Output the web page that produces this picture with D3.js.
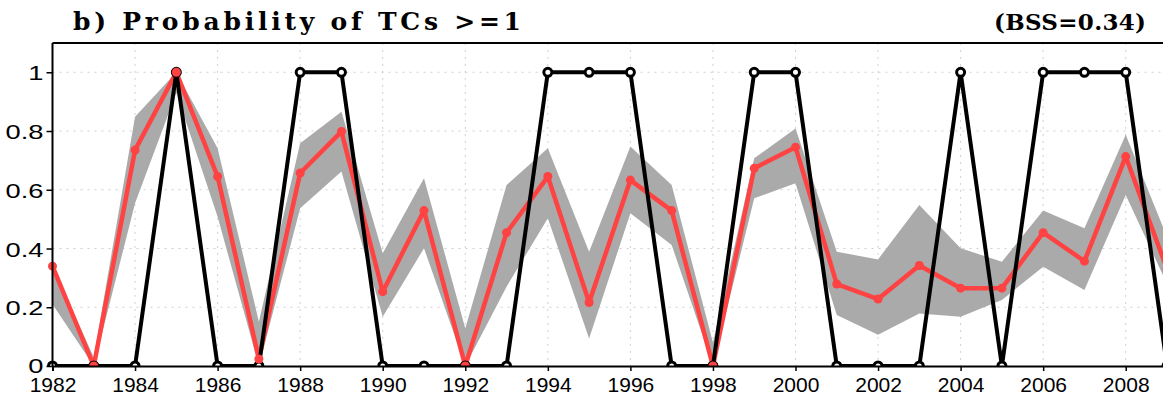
<!DOCTYPE html>
<html>
<head>
<meta charset="utf-8">
<script src="https://cdn.jsdelivr.net/npm/d3@7"></script>
<style>
  html, body { margin: 0; padding: 0; background: #fff; }
  svg { display: block; }
</style>
</head>
<body>
<svg id="chart" width="1163" height="397"></svg>
<script>
// Seasonal TC occurrence: observed (0/1) vs. forecast probability with ensemble spread
const years = [1982, 1983, 1984, 1985, 1986, 1987, 1988, 1989, 1990, 1991, 1992, 1993, 1994, 1995,
               1996, 1997, 1998, 1999, 2000, 2001, 2002, 2003, 2004, 2005, 2006, 2007, 2008, 2009];
const observed = [0, 0, 0, 1, 0, 0, 1, 1, 0, 0, 0, 0, 1, 1,
                  1, 0, 0, 1, 1, 0, 0, 0, 1, 0, 1, 1, 1, 0];
const forecast = [0.34, 0.0, 0.735, 1.0, 0.645, 0.024, 0.657, 0.798, 0.253, 0.529, 0.0, 0.454, 0.645, 0.216,
                  0.633, 0.529, 0.0, 0.673, 0.745, 0.279, 0.228, 0.342, 0.265, 0.265, 0.454, 0.357, 0.713, 0.33];
const spreadUpper = [0.34, 0.03, 0.849, 1.0, 0.741, 0.151, 0.758, 0.866, 0.384, 0.639, 0.128, 0.616, 0.741, 0.389,
                     0.747, 0.616, 0.08, 0.707, 0.809, 0.389, 0.363, 0.548, 0.401, 0.355, 0.529, 0.469, 0.787, 0.44];
const spreadLower = [0.21, 0.0, 0.554, 0.93, 0.508, 0.0, 0.537, 0.662, 0.168, 0.401, 0.0, 0.27, 0.503, 0.094,
                     0.52, 0.412, 0.0, 0.571, 0.622, 0.174, 0.106, 0.179, 0.168, 0.225, 0.338, 0.259, 0.582, 0.28];
const xTicks = [1982, 1984, 1986, 1988, 1990, 1992, 1994, 1996, 1998, 2000, 2002, 2004, 2006, 2008];
const yTicks = [0, 0.2, 0.4, 0.6, 0.8, 1];
const titleText = "b) Probability of TCs >=1";
const scoreText = "(BSS=0.34)";

(function draw() {
  const svg = d3.select("#chart");
  const W = 1163;
  const mLeft = 52.5, mRight = 1167, mTop = 42.9, mBottom = 366;

  const x = d3.scaleLinear().domain([1982, 2009]).range([mLeft, mRight]);
  const y = d3.scaleLinear().domain([0, 1.1]).range([mBottom, mTop]);

  const rows = years.map((yr, i) => ({
    yr, obs: observed[i], fc: forecast[i], lo: spreadLower[i], hi: spreadUpper[i]
  }));

  // clip everything below the x axis
  svg.append("defs").append("clipPath").attr("id", "plotClip")
    .append("rect").attr("x", 0).attr("y", 0).attr("width", W).attr("height", mBottom);

  // dotted grid
  const grid = svg.append("g").attr("stroke", "#cfcfcf").attr("stroke-width", 1)
    .attr("stroke-dasharray", "2,5");
  grid.selectAll("line.v").data(xTicks.filter(t => t > 1982)).join("line").attr("class", "v")
    .attr("x1", d => x(d)).attr("x2", d => x(d)).attr("y1", mTop).attr("y2", mBottom);
  grid.selectAll("line.h").data(yTicks.filter(t => t > 0)).join("line").attr("class", "h")
    .attr("x1", mLeft).attr("x2", W).attr("y1", d => y(d)).attr("y2", d => y(d));

  const plot = svg.append("g").attr("clip-path", "url(#plotClip)");

  // ensemble spread band
  plot.append("path").datum(rows)
    .attr("fill", "#aaaaaa")
    .attr("d", d3.area().x(d => x(d.yr)).y0(d => y(d.lo)).y1(d => y(d.hi)));

  // forecast probability line
  plot.append("path").datum(rows)
    .attr("fill", "none").attr("stroke", "#ff4242").attr("stroke-width", 4.5)
    .attr("stroke-linejoin", "round")
    .attr("d", d3.line().x(d => x(d.yr)).y(d => y(d.fc)));

  // observed line
  plot.append("path").datum(rows)
    .attr("fill", "none").attr("stroke", "#000").attr("stroke-width", 4)
    .attr("d", d3.line().x(d => x(d.yr)).y(d => y(d.obs)));

  plot.selectAll("circle.obs").data(rows).join("circle")
    .attr("class", "obs")
    .attr("cx", d => x(d.yr)).attr("cy", d => y(d.obs)).attr("r", 4)
    .attr("fill", "#fff").attr("stroke", "#000").attr("stroke-width", 3);

  plot.selectAll("circle.fc").data(rows).join("circle")
    .attr("class", "fc")
    .attr("cx", d => x(d.yr)).attr("cy", d => y(d.fc)).attr("r", 4.5)
    .attr("fill", "#ff4242");

  // frame
  svg.append("line").attr("x1", mLeft).attr("x2", W).attr("y1", mTop).attr("y2", mTop)
    .attr("stroke", "#000").attr("stroke-width", 2);

  const xAxis = svg.append("g").attr("transform", `translate(0,${mBottom})`)
    .call(d3.axisBottom(x).tickValues(xTicks).tickFormat(d3.format("d")).tickSize(5).tickPadding(6));
  xAxis.select(".domain").attr("stroke-width", 2);
  xAxis.selectAll(".tick line").attr("stroke-width", 1.5);
  xAxis.selectAll("text").attr("font-family", "Liberation Sans, Arial, sans-serif")
    .attr("font-size", 21).attr("fill", "#000");

  const yAxis = svg.append("g").attr("transform", `translate(${mLeft},0)`)
    .call(d3.axisLeft(y).tickValues(yTicks)
      .tickFormat(d => d === 0 ? "0" : d === 1 ? "1" : d3.format(".1f")(d))
      .tickSize(6).tickPadding(0));
  yAxis.select(".domain").attr("stroke-width", 2).attr("d", `M0,${mTop}V${mBottom}`);
  yAxis.selectAll(".tick line").attr("stroke-width", 1.5);
  yAxis.selectAll(".tick text")
    .attr("x", null).attr("dy", null)
    .attr("font-family", "Liberation Sans, Arial, sans-serif")
    .attr("font-size", 21).attr("fill", "#000")
    .attr("text-anchor", "end")
    .attr("transform", d => `translate(-9,${d === 0 ? 6.5 : 7.5}) scale(1.3,1)`);

  // titles
  svg.append("text").attr("x", 73).attr("y", 30)
    .attr("font-family", "DejaVu Serif, serif").attr("font-weight", "bold")
    .attr("font-size", 25).attr("fill", "#000")
    .attr("textLength", 448).attr("lengthAdjust", "spacing")
    .text(titleText);
  svg.append("text").attr("x", 994).attr("y", 30)
    .attr("font-family", "DejaVu Serif, serif").attr("font-weight", "bold")
    .attr("font-size", 23).attr("fill", "#000")
    .attr("textLength", 152).attr("lengthAdjust", "spacing")
    .text(scoreText);
})();
</script>
</body>
</html>
